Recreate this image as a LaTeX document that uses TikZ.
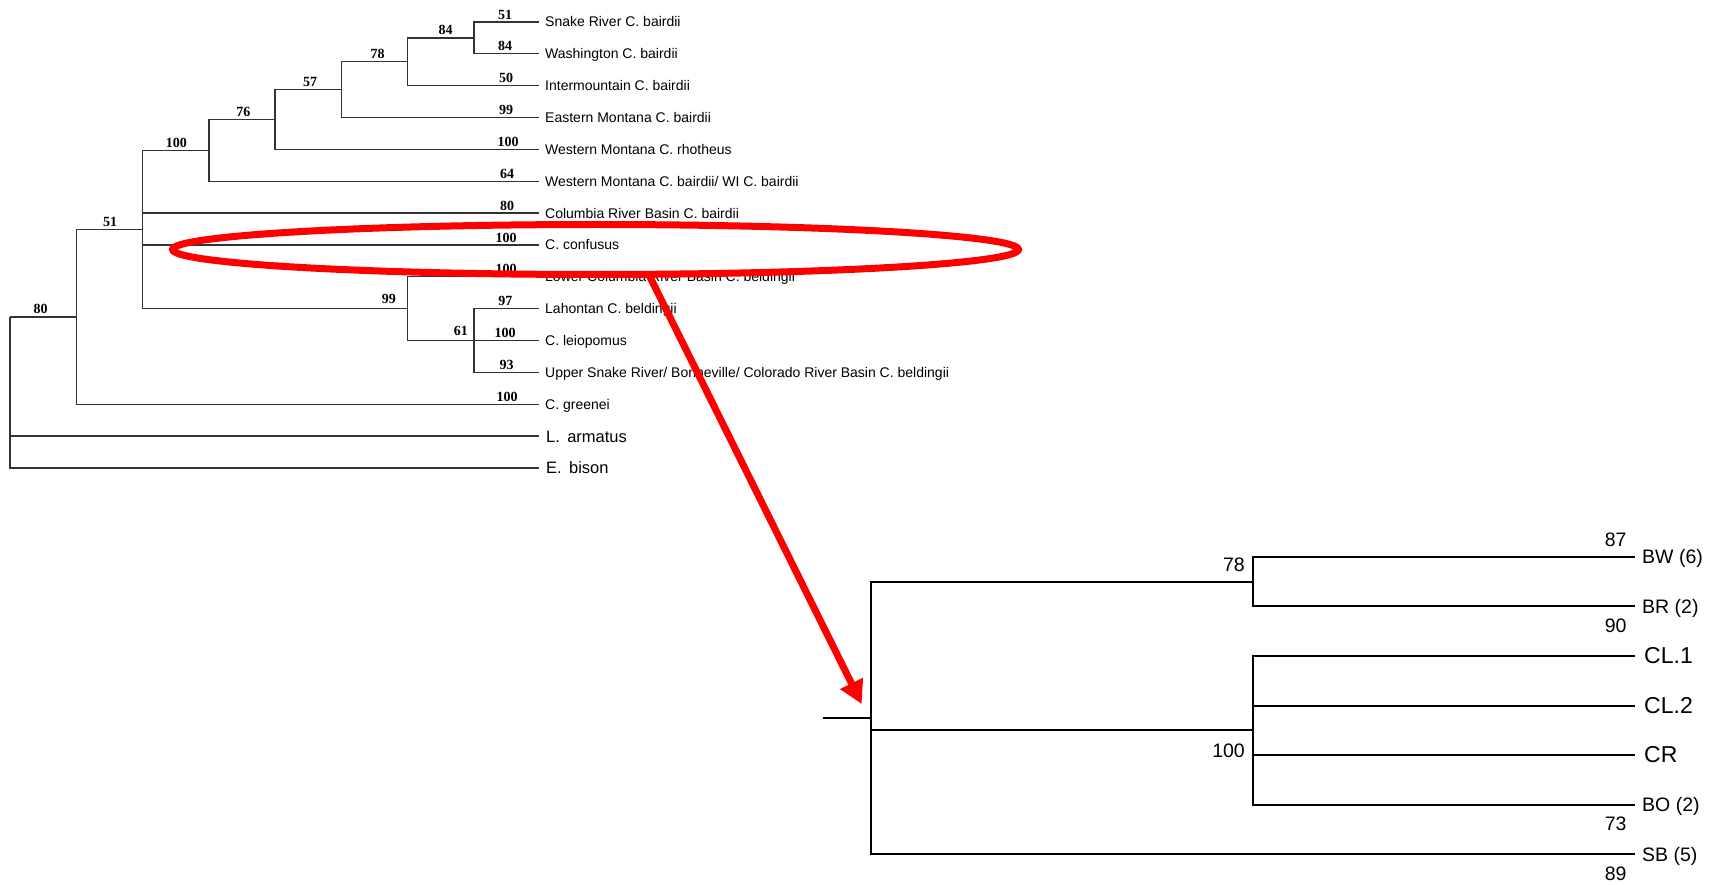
\documentclass[tikz,border=0pt]{standalone}
\usepackage{fontspec}
\setmainfont{Liberation Serif}
\newfontfamily\tipfont{Liberation Sans}
\usetikzlibrary{shapes.geometric,arrows.meta}

\begin{document}
\begin{tikzpicture}[
    x=1pt, y=-1pt,
    branch/.style={draw=black!80, line width=1.3pt},
    bigbranch/.style={draw=black, line width=2pt},
    boot/.style={font=\fontsize{14}{14}\selectfont\bfseries, anchor=base, inner sep=0pt},
    bootr/.style={boot, anchor=base east},
    tiplab/.style={font={\tipfont\fontsize{14}{16}\selectfont}, anchor=base west, inner sep=0pt},
    outlab/.style={font={\tipfont\fontsize{16.5}{18}\selectfont}, anchor=base west, inner sep=0pt},
    poplab/.style={font={\tipfont\fontsize{19.5}{21}\selectfont}, anchor=base west, inner sep=0pt},
    cllab/.style={font={\tipfont\fontsize{23}{25}\selectfont}, anchor=base west, inner sep=0pt},
    support/.style={font={\tipfont\fontsize{19.5}{21}\selectfont}, anchor=base, inner sep=0pt},
    ring/.style={ellipse, draw=red, line width=7pt, minimum width=846pt, minimum height=50pt, inner sep=0pt, outer sep=0pt},
    pointer/.style={draw=red, line width=7pt, -{Triangle[length=23pt,width=24pt]}}
]

\useasboundingbox (0,0) rectangle (1719,885);

% Upper tree: internal nodes
\coordinate (rt)   at (10,316.9);
\coordinate (n80)  at (76.7,316.9);
\coordinate (n51)  at (142.7,229.5);
\coordinate (n100) at (209,150.4);
\coordinate (n76)  at (275,119.5);
\coordinate (n57)  at (341.7,89.6);
\coordinate (n78)  at (407.3,61.8);
\coordinate (n84)  at (474,37.9);
\coordinate (n99)  at (407.3,308.6);
\coordinate (n61)  at (474,340.5);

% Upper tree: tips
\coordinate (t-snk) at (539,22);
\coordinate (t-was) at (539,53.8);
\coordinate (t-int) at (539,85.7);
\coordinate (t-emb) at (539,117.5);
\coordinate (t-rho) at (539,149.4);
\coordinate (t-wmb) at (539,181.2);
\coordinate (t-col) at (539,213.1);
\coordinate (t-con) at (539,244.9);
\coordinate (t-lcr) at (539,276.8);
\coordinate (t-lah) at (539,308.6);
\coordinate (t-lei) at (539,340.5);
\coordinate (t-usr) at (539,372.3);
\coordinate (t-gre) at (539,404.2);
\coordinate (t-arm) at (539,436);
\coordinate (t-bis) at (539,467.9);

% Upper tree: branches
\draw[branch] (rt) |- (n80);
\draw[branch] (rt) |- (t-arm);
\draw[branch] (rt) |- (t-bis);
\draw[branch] (n80) |- (n51);
\draw[branch] (n80) |- (t-gre);
\draw[branch] (n51) |- (n100);
\draw[branch] (n51) |- (t-col);
\draw[branch] (n51) |- (t-con);
\draw[branch] (n51) |- (n99);
\draw[branch] (n100) |- (n76);
\draw[branch] (n100) |- (t-wmb);
\draw[branch] (n76) |- (n57);
\draw[branch] (n76) |- (t-rho);
\draw[branch] (n57) |- (n78);
\draw[branch] (n57) |- (t-emb);
\draw[branch] (n78) |- (n84);
\draw[branch] (n78) |- (t-int);
\draw[branch] (n84) |- (t-snk);
\draw[branch] (n84) |- (t-was);
\draw[branch] (n99) |- (t-lcr);
\draw[branch] (n99) |- (n61);
\draw[branch] (n61) |- (t-lah);
\draw[branch] (n61) |- (t-lei);
\draw[branch] (n61) |- (t-usr);

% Upper tree: support values
\node[boot] (s80)  at (40.5,313.6) {80};
\node[boot] (s51)  at (110,226.2) {51};
\node[boot] (s100) at (176.3,147.1) {100};
\node[boot] (s76)  at (243.3,116.2) {76};
\node[boot] (s57)  at (310,86.3) {57};
\node[boot] (s78)  at (377.5,58.5) {78};
\node[boot] (s84)  at (445.7,34.6) {84};
\node[bootr] (s99) at (396,303.4) {99};
\node[bootr] (s61) at (468,335.3) {61};
\node[boot] (v-snk) at (505,19.3) {51};
\node[boot] (v-was) at (505,51) {84};
\node[boot] (v-int) at (506,82.9) {50};
\node[boot] (v-emb) at (506,114.7) {99};
\node[boot] (v-rho) at (508,146.6) {100};
\node[boot] (v-wmb) at (507,178.4) {64};
\node[boot] (v-col) at (507,210.3) {80};
\node[boot] (v-con) at (506,242.1) {100};
\node[boot] (v-lcr) at (506,274) {100};
\node[boot] (v-lah) at (505.3,305.8) {97};
\node[boot] (v-lei) at (505,337.7) {100};
\node[boot] (v-usr) at (506.5,369.5) {93};
\node[boot] (v-gre) at (507,401.4) {100};

% Upper tree: taxon names
\node[tiplab] (snk) at (545,27) {Snake River C. bairdii};
\node[tiplab] (was) at (545,58.8) {Washington C. bairdii};
\node[tiplab] (int) at (545,90.7) {Intermountain C. bairdii};
\node[tiplab] (emb) at (545,122.5) {Eastern Montana C. bairdii};
\node[tiplab] (rho) at (545,154.4) {Western Montana C. rhotheus};
\node[tiplab] (wmb) at (545,186.2) {Western Montana C. bairdii/ WI C. bairdii};
\node[tiplab] (col) at (545,218.1) {Columbia River Basin C. bairdii};
\node[tiplab] (con) at (545,249.9) {C. confusus};
\node[tiplab] (lcr) at (545,281.8) {Lower Columbia River Basin C. beldingii};
\node[tiplab] (lah) at (545,313.6) {Lahontan C. beldingii};
\node[tiplab] (lei) at (545,345.5) {C. leiopomus};
\node[tiplab] (usr) at (545,377.3) {Upper Snake River/ Bonneville/ Colorado River Basin C. beldingii};
\node[tiplab] (gre) at (545,409.2) {C. greenei};
\node[outlab] (arm) at (546,442) {L.\, armatus};
\node[outlab] (bis) at (546,473.9) {E.\, bison};

% Lower tree: nodes and tips
\coordinate (stub)  at (822.7,717.7);
\coordinate (rb)    at (871,717.7);
\coordinate (nb78)  at (1253.3,581.5);
\coordinate (nb100) at (1253.3,730.3);
\coordinate (t-bw)  at (1635,556.7);
\coordinate (t-br)  at (1635,606.3);
\coordinate (t-cl1) at (1635,655.9);
\coordinate (t-cl2) at (1635,705.5);
\coordinate (t-cr)  at (1635,755.1);
\coordinate (t-bo)  at (1635,804.7);
\coordinate (t-sb)  at (1635,854.3);

\draw[bigbranch] (stub) -- (rb);
\draw[bigbranch] (rb) |- (nb78);
\draw[bigbranch] (rb) |- (nb100);
\draw[bigbranch] (rb) |- (t-sb);
\draw[bigbranch] (nb78) |- (t-bw);
\draw[bigbranch] (nb78) |- (t-br);
\draw[bigbranch] (nb100) |- (t-cl1);
\draw[bigbranch] (nb100) |- (t-cl2);
\draw[bigbranch] (nb100) |- (t-cr);
\draw[bigbranch] (nb100) |- (t-bo);

% Lower tree: labels
\node[poplab] (bw)  at (1642,563.7) {BW (6)};
\node[poplab] (br)  at (1642,613.3) {BR (2)};
\node[cllab]  (cl1) at (1644,663.4) {CL.1};
\node[cllab]  (cl2) at (1644,713) {CL.2};
\node[cllab]  (cr)  at (1644,762.3) {CR};
\node[poplab] (bo)  at (1642,811.7) {BO (2)};
\node[poplab] (sb)  at (1642,861.3) {SB (5)};
\node[support] (w87) at (1615.7,546.7) {87};
\node[support] (w90) at (1615.7,632.7) {90};
\node[support] (w73) at (1615.7,830.7) {73};
\node[support] (w89) at (1615.7,880.7) {89};
\node[support, anchor=base east] (w78)  at (1245,571.7) {78};
\node[support, anchor=base east] (w100) at (1245,757) {100};

% Highlight and pointer
\node[ring] (oval) at (595.5,249.5) {};
\coordinate (aim) at (861.7,704);
\draw[pointer] (oval.-25) -- (aim);

\end{tikzpicture}
\end{document}
